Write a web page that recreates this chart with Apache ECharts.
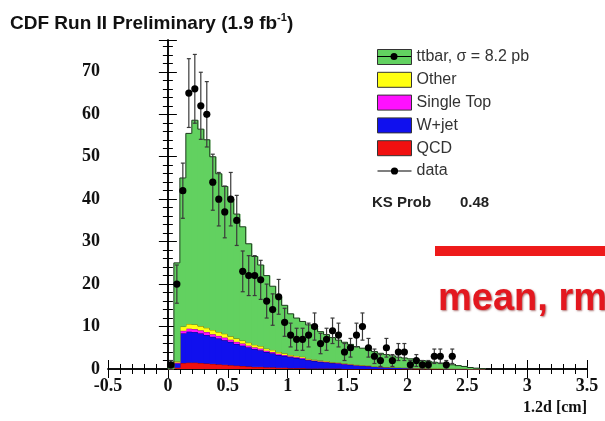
<!DOCTYPE html>
<html>
<head>
<meta charset="utf-8">
<script src="https://cdn.jsdelivr.net/npm/echarts@6/dist/echarts.min.js"></script>
<style>
html, body { margin: 0; padding: 0; background: #fff; }
#chart { width: 605px; height: 421px; }
</style>
</head>
<body>
<div id="chart"></div>
<script>
// bin lower edges (width 0.05 cm)
const binLow = [
  0, 0.05, 0.1, 0.15, 0.2, 0.25, 0.3, 0.35, 0.4, 0.45,
  0.5, 0.55, 0.6, 0.65, 0.7, 0.75, 0.8, 0.85, 0.9, 0.95,
  1, 1.05, 1.1, 1.15, 1.2, 1.25, 1.3, 1.35, 1.4, 1.45,
  1.5, 1.55, 1.6, 1.65, 1.7, 1.75, 1.8, 1.85, 1.9, 1.95,
  2, 2.05, 2.1, 2.15, 2.2, 2.25, 2.3, 2.35, 2.4, 2.45,
  2.5, 2.55, 2.6
]
const binWidth = 0.05

// stack, bottom to top
const qcd = [
  0, 0.3, 1.4, 1.5, 1.5, 1.4, 1.3, 1.2, 1.1, 1.0,
  0.9, 0.8, 0.7, 0.6, 0.5, 0.5, 0.4, 0.4, 0.3, 0.3,
  0.2, 0.2, 0.2, 0.1, 0.1, 0.1, 0.1, 0.1, 0.1, 0,
  0, 0, 0, 0, 0, 0, 0, 0, 0, 0,
  0, 0, 0, 0, 0, 0, 0, 0, 0, 0,
  0, 0, 0
]
const wjet = [
  0, 1.0, 7.0, 7.3, 7.2, 7.0, 6.7, 6.4, 6.1, 5.8,
  5.5, 5.1, 4.8, 4.5, 4.2, 3.9, 3.6, 3.3, 3.0, 2.8,
  2.6, 2.4, 2.2, 2.0, 1.8, 1.6, 1.5, 1.3, 1.2, 1.1,
  1.0, 0.9, 0.8, 0.7, 0.6, 0.5, 0.45, 0.4, 0.35, 0.3,
  0.25, 0.2, 0.2, 0.15, 0.1, 0.1, 0.05, 0.05, 0.05, 0.05,
  0, 0, 0
]
const singleTop = [
  0, 0.2, 0.6, 0.7, 0.7, 0.7, 0.7, 0.6, 0.6, 0.6,
  0.5, 0.5, 0.5, 0.4, 0.4, 0.4, 0.3, 0.3, 0.3, 0.2,
  0.2, 0.2, 0.2, 0.1, 0.1, 0.1, 0.1, 0.1, 0.1, 0.1,
  0.1, 0, 0, 0, 0, 0, 0, 0, 0, 0,
  0, 0, 0, 0, 0, 0, 0, 0, 0, 0,
  0, 0, 0
]
const other = [
  0, 0.3, 1.0, 1.1, 1.1, 1.0, 1.0, 1.0, 0.9, 0.9,
  0.8, 0.8, 0.7, 0.7, 0.6, 0.6, 0.5, 0.5, 0.4, 0.4,
  0.3, 0.3, 0.3, 0.2, 0.2, 0.2, 0.2, 0.1, 0.1, 0.1,
  0.1, 0.1, 0.1, 0.1, 0, 0, 0, 0, 0, 0,
  0, 0, 0, 0, 0, 0, 0, 0, 0, 0,
  0, 0, 0
]
const ttbar = [
  0.3, 23.2, 35.0, 44.9, 48.1, 46.4, 44.3, 40.8, 37.3, 34.7,
  32.3, 29.3, 26.8, 23.3, 20.8, 19.1, 17.2, 15.0, 13.0, 11.3,
  9.7, 8.9, 8.3, 8.0, 7.4, 6.8, 6.2, 5.8, 5.3, 5.0,
  4.6, 4.3, 4.0, 3.7, 3.5, 3.2, 2.95, 2.7, 2.45, 2.3,
  2.15, 2.0, 1.8, 1.65, 1.5, 1.3, 1.15, 0.95, 0.75, 0.55,
  0.35, 0.2, 0.1
]

// data counts and their errors
const dataCounts = [
  1, 20, 42, 65, 66, 62, 60, 44, 40, 37,
  40, 35, 23, 22, 22, 21, 16, 14, 17, 11,
  8, 7, 7, 8, 10, 6, 7, 9, 8, 4,
  5, 8, 10, 5, 3, 2, 5, 2, 4, 4,
  1, 2, 1, 1, 3, 3, 1, 3, 0, 0,
  0, 0, 0
]
const dataErr = [
  1.0, 4.5, 6.5, 8.1, 8.1, 7.9, 7.7, 6.6, 6.3, 6.1,
  6.3, 5.9, 4.8, 4.7, 4.7, 4.6, 4.0, 3.7, 4.1, 3.3,
  2.8, 2.6, 2.6, 2.8, 3.2, 2.4, 2.6, 3.0, 2.8, 2.0,
  2.2, 2.8, 3.2, 2.2, 1.7, 1.4, 2.2, 1.4, 2.0, 2.0,
  1.0, 1.4, 1.0, 1.0, 1.7, 1.7, 1.0, 1.7, 0, 0,
  0, 0, 0
]

const serifBold = { fontFamily: 'Liberation Serif', fontWeight: 'bold', fontSize: 18, color: '#111' }

const chart = echarts.init(document.getElementById('chart'))

// stacked histogram: each component sits on the running sum of the ones below
const components = [
  { name: 'QCD', values: qcd, fill: '#f01010', edge: '#8a0000' },
  { name: 'W+jet', values: wjet, fill: '#1010ee', edge: '#00007a' },
  { name: 'Single Top', values: singleTop, fill: '#ff10ff', edge: '#8a008a' },
  { name: 'Other', values: other, fill: '#ffff10', edge: '#7a7a00' },
  { name: 'ttbar, σ = 8.2 pb', values: ttbar, fill: '#62d160', edge: '#1c3a1c' }
]

const runningBase = binLow.map(() => 0)
const histSeries = components.map((comp, ci) => {
  const rows = binLow.map((x, i) => {
    const lo = runningBase[i]
    const hi = lo + comp.values[i]
    const prevHi = i > 0 ? runningBase[i - 1] + comp.values[i - 1] : lo
    return [x, x + binWidth, lo, hi, prevHi]
  })
  binLow.forEach((x, i) => { runningBase[i] += comp.values[i] })
  const lastIdx = rows.length - 1
  return {
    name: comp.name,
    type: 'custom',
    data: rows,
    itemStyle: { color: comp.fill },
    z: 2 + ci,
    renderItem: (params, api) => {
      const x0 = api.value(0), x1 = api.value(1)
      const lo = api.value(2), hi = api.value(3), prevHi = api.value(4)
      const pTop = api.coord([x0, hi])
      const pBot = api.coord([x1, lo])
      const pPrev = api.coord([x0, prevHi])
      const pts = [[pTop[0], pPrev[1]], [pTop[0], pTop[1]], [pBot[0], pTop[1]]]
      if (params.dataIndex === lastIdx) pts.push([pBot[0], pBot[1]])
      return {
        type: 'group',
        children: [
          {
            type: 'rect',
            shape: { x: pTop[0], y: pTop[1], width: pBot[0] - pTop[0] + 0.6, height: pBot[1] - pTop[1] },
            style: { fill: comp.fill }
          },
          {
            type: 'polyline',
            shape: { points: pts },
            style: { stroke: comp.edge, fill: null, lineWidth: 1 }
          }
        ]
      }
    }
  }
})

const dataPoints = binLow
  .map((x, i) => [x + binWidth / 2, dataCounts[i], dataErr[i]])
  .filter(d => d[1] > 0)

function mirrorAxis(pos, min, max, interval) {
  return {
    type: 'value',
    position: pos,
    min, max, interval,
    axisLine: { show: true, lineStyle: { color: '#000', width: 1.5 } },
    axisTick: { show: true, inside: true, length: 9, lineStyle: { color: '#000' } },
    minorTick: { show: true, splitNumber: 5, length: 5, lineStyle: { color: '#000' } },
    axisLabel: { show: false },
    splitLine: { show: false }
  }
}

const option = {
  animation: false,
  title: {
    text: 'CDF Run II Preliminary (1.9 fb{sup|-1})',
    left: 10,
    top: 12,
    padding: 0,
    textStyle: {
      fontFamily: 'Liberation Sans',
      fontWeight: 'bold',
      fontSize: 19,
      color: '#111',
      rich: {
        sup: { fontFamily: 'Liberation Sans', fontWeight: 'bold', fontSize: 11, color: '#111', padding: [0, 0, 12, 0] }
      }
    }
  },
  legend: {
    orient: 'vertical',
    left: 377,
    top: 49,
    padding: 0,
    itemWidth: 34,
    itemHeight: 15,
    itemGap: 6.8,
    selectedMode: false,
    itemStyle: { borderColor: '#333', borderWidth: 1 },
    textStyle: { fontFamily: 'Liberation Sans', fontSize: 16, color: '#333', lineHeight: 15 },
    data: [
      { name: 'ttbar, σ = 8.2 pb', icon: 'rect' },
      { name: 'Other', icon: 'rect' },
      { name: 'Single Top', icon: 'rect' },
      { name: 'W+jet', icon: 'rect' },
      { name: 'QCD', icon: 'rect' },
      {
        name: 'data',
        icon: 'path://M0,7 L33,7 L33,8 L0,8 Z M13,7.5 A3.5,3.5,0,1,1,20,7.5 A3.5,3.5,0,1,1,13,7.5 Z',
        itemStyle: { color: '#000', borderWidth: 0 }
      }
    ]
  },
  grid: { left: 108, right: 18, top: 40, bottom: 52 },
  xAxis: [
    {
      type: 'value',
      position: 'bottom',
      min: -0.5,
      max: 3.5,
      interval: 0.5,
      name: '1.2d [cm]',
      nameLocation: 'end',
      nameGap: 0,
      nameTextStyle: { ...serifBold, fontSize: 16, align: 'right', verticalAlign: 'top', padding: [31, 0, 0, 0] },
      axisLine: { show: true, lineStyle: { color: '#000', width: 1.5 } },
      axisTick: { show: true, inside: true, length: 9, lineStyle: { color: '#000' } },
      minorTick: { show: true, splitNumber: 5, length: 5, lineStyle: { color: '#000' } },
      axisLabel: { ...serifBold, margin: 8 },
      splitLine: { show: false }
    },
    mirrorAxis('top', -0.5, 3.5, 0.5)
  ],
  yAxis: [
    {
      type: 'value',
      position: 'left',
      min: 0,
      max: 77.5,
      interval: 10,
      axisLine: { show: true, lineStyle: { color: '#000', width: 1.5 } },
      axisTick: { show: true, inside: true, length: 9, lineStyle: { color: '#000' } },
      minorTick: { show: true, splitNumber: 5, length: 5, lineStyle: { color: '#000' } },
      axisLabel: { ...serifBold, margin: 8, showMaxLabel: false },
      splitLine: { show: false }
    },
    mirrorAxis('right', 0, 77.5, 10)
  ],
  series: [
    ...histSeries,
    {
      name: 'data',
      type: 'custom',
      data: dataPoints,
      itemStyle: { color: '#000' },
      z: 10,
      renderItem: (params, api) => {
        const x = api.value(0)
        const y = api.value(1)
        const e = api.value(2)
        const c = api.coord([x, y])
        const top = api.coord([x, y + e])[1]
        const bot = api.coord([x, Math.max(y - e, 0)])[1]
        const bar = { stroke: '#3a3a3a', lineWidth: 1.2 }
        return {
          type: 'group',
          children: [
            { type: 'line', shape: { x1: c[0], y1: top, x2: c[0], y2: bot }, style: bar },
            { type: 'line', shape: { x1: c[0] - 2, y1: top, x2: c[0] + 2, y2: top }, style: bar },
            { type: 'line', shape: { x1: c[0] - 2, y1: bot, x2: c[0] + 2, y2: bot }, style: bar },
            { type: 'circle', shape: { cx: c[0], cy: c[1], r: 3.6 }, style: { fill: '#000' } }
          ]
        }
      }
    }
  ],
  graphic: [
    // marker over the ttbar legend swatch
    { type: 'line', shape: { x1: 377, y1: 56.5, x2: 411, y2: 56.5 }, style: { stroke: '#000', lineWidth: 1 }, z: 100 },
    { type: 'circle', shape: { cx: 394, cy: 56.5, r: 3.5 }, style: { fill: '#000' }, z: 100 },
    {
      type: 'text', x: 372, y: 203, z: 100,
      style: { text: 'KS Prob', font: 'bold 15px "Liberation Sans"', fill: '#222', verticalAlign: 'middle', textVerticalAlign: 'middle' }
    },
    {
      type: 'text', x: 460, y: 203, z: 100,
      style: { text: '0.48', font: 'bold 15px "Liberation Sans"', fill: '#222', verticalAlign: 'middle', textVerticalAlign: 'middle' }
    },
    // slide overlay
    { type: 'rect', shape: { x: 435, y: 246, width: 175, height: 10 }, style: { fill: '#ee1a1a' }, z: 100 },
    {
      type: 'text', x: 438, y: 300, z: 100,
      style: {
        text: 'mean, rms',
        font: 'bold 38px "Liberation Sans"',
        fill: '#e3181f',
        verticalAlign: 'middle',
        textVerticalAlign: 'middle',
        textShadowColor: 'rgba(110,0,0,0.55)',
        textShadowBlur: 2,
        textShadowOffsetX: 1,
        textShadowOffsetY: 1
      }
    }
  ]
}

chart.setOption(option)
</script>
</body>
</html>
